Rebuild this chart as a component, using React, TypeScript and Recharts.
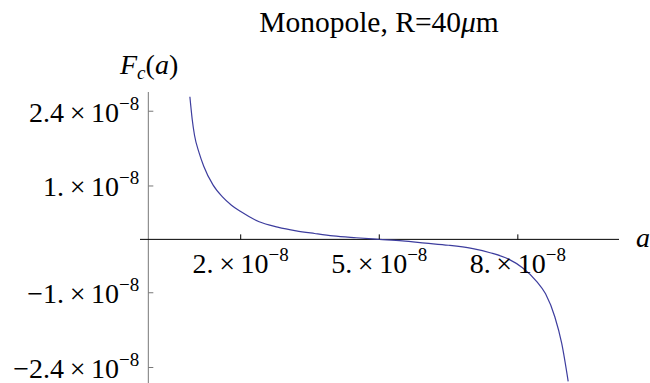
import React from 'react';
import { LineChart, Line, XAxis, YAxis, ReferenceLine, ReferenceDot } from 'recharts';

// separation a and force F_c(a), both in units of 1e-8
const A_VALUES = [0.9, 0.95, 1.0, 1.1, 1.2, 1.4, 1.6, 1.8, 2.0, 2.4, 2.8, 3.2, 3.6, 4.0, 4.5, 5.0, 5.5, 6.0, 6.5, 7.0, 7.4, 7.8, 8.1, 8.4, 8.6, 8.8, 8.95, 9.09];
const F_VALUES = [2.67, 2.25, 1.95, 1.62, 1.37, 1.02, 0.8, 0.64, 0.52, 0.33, 0.23, 0.16, 0.11, 0.065, 0.03, 0.0, -0.03, -0.07, -0.11, -0.17, -0.25, -0.37, -0.53, -0.78, -1.02, -1.45, -1.95, -2.66];

const X_TICKS = [2, 5, 8];
const Y_TICKS = [2.4, 1, -1, -2.4];

const data = A_VALUES.map((a, i) => ({ a, f: F_VALUES[i] }));

const FONT = "'Liberation Serif', 'Times New Roman', serif";
const CURVE = '#3d3d9e';

const fmt = (t: number) => (Number.isInteger(t) ? `${t}.` : `${t}`).replace('-', '\u2212');

const SciLabel = ({ x, y, value, anchor }: { x: number; y: number; value: number; anchor: 'end' | 'middle' }) => (
  <text x={x} y={y} textAnchor={anchor} style={{ fontFamily: FONT }} fontSize={28} fill="#000">
    {fmt(value)}
    {'\u2009×\u200910'}
    <tspan dy={-12} fontSize={19}>{'\u22128'}</tspan>
  </text>
);

const xTickShape = (value: number) => (props: any) => (
  <g>
    <line x1={props.cx} x2={props.cx} y1={props.cy} y2={props.cy - 5} stroke="#000" strokeWidth={1} />
    <SciLabel x={props.cx} y={props.cy + 34} value={value} anchor="middle" />
  </g>
);

const yTickShape = (value: number) => (props: any) => (
  <g>
    <line x1={props.cx} x2={props.cx + 5} y1={props.cy} y2={props.cy} stroke="#777" strokeWidth={1} />
    <SciLabel x={props.cx - 9} y={props.cy + 10.5} value={value} anchor="end" />
  </g>
);

export default function App() {
  return (
    <div style={{ position: 'absolute', left: 0, top: 0, width: 650, height: 383, background: '#fff', fontFamily: FONT }}>
      <LineChart width={650} height={383} data={data} margin={{ top: 92, right: 31, bottom: 0, left: 140 }}>
        <XAxis type="number" dataKey="a" domain={[-0.18, 10.19]} allowDataOverflow hide />
        <YAxis type="number" domain={[-2.69, 2.76]} allowDataOverflow hide />
        <ReferenceLine x={0} stroke="#777" strokeWidth={1} />
        <ReferenceLine y={0} stroke="#000" strokeWidth={1} />
        {X_TICKS.map((t) => (
          <ReferenceDot key={`x${t}`} x={t} y={0} r={0} shape={xTickShape(t)} />
        ))}
        {Y_TICKS.map((t) => (
          <ReferenceDot key={`y${t}`} x={0} y={t} r={0} shape={yTickShape(t)} />
        ))}
        <Line type="monotone" dataKey="f" stroke={CURVE} strokeWidth={1.2} dot={false} isAnimationActive={false} />
      </LineChart>
      <svg width={650} height={383} style={{ position: 'absolute', left: 0, top: 0, pointerEvents: 'none', fontFamily: FONT }}>
        <text x={379} y={32} textAnchor="middle" fontSize={29.5} fill="#000">
          Monopole, R=40<tspan fontStyle="italic">μ</tspan>m
        </text>
        <text x={120} y={74} fontSize={28} fill="#000">
          <tspan fontStyle="italic">F</tspan>
          <tspan fontStyle="italic" fontSize={19} dy={5}>c</tspan>
          <tspan dy={-5}>(</tspan>
          <tspan fontStyle="italic">a</tspan>)
        </text>
        <text x={636} y={247} fontSize={28} fontStyle="italic" fill="#000">a</text>
      </svg>
    </div>
  );
}
